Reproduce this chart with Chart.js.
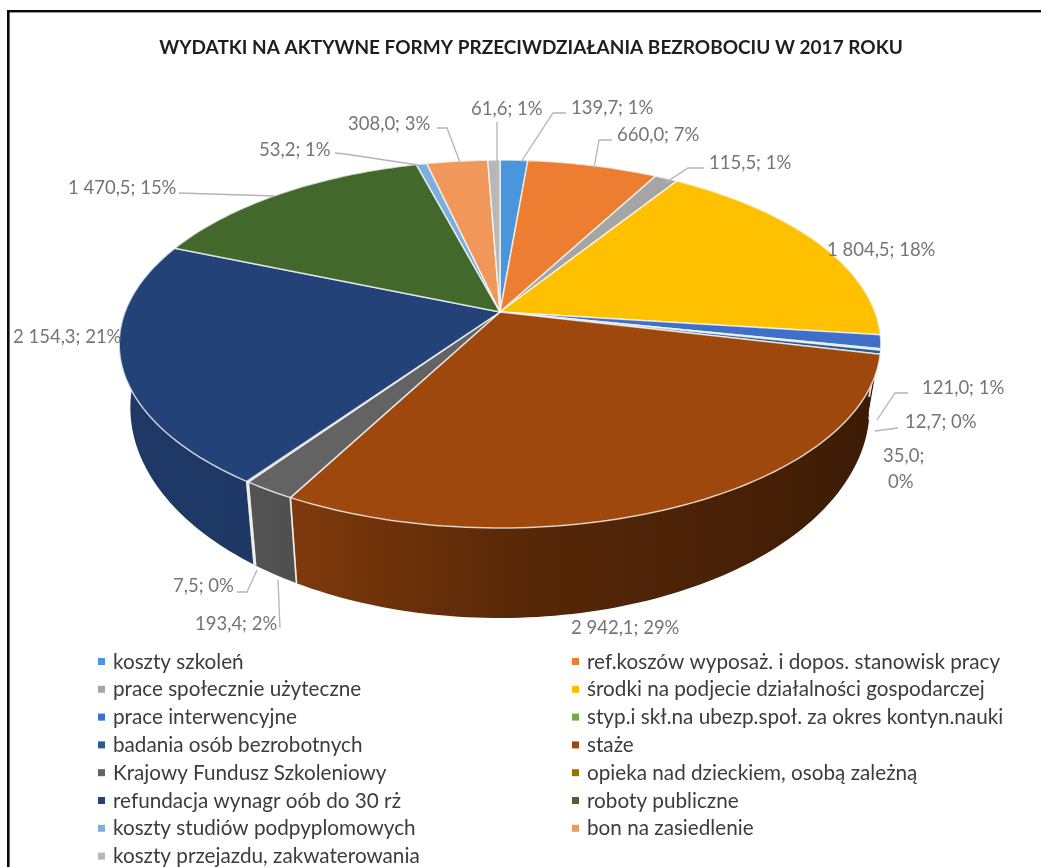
<!DOCTYPE html>
<html lang="pl"><head><meta charset="utf-8">
<style>html,body{margin:0;padding:0;background:#fff}canvas{display:block;filter:blur(0.45px)}</style>
<script src="https://cdn.jsdelivr.net/npm/chart.js@4"></script></head>
<body><canvas id="c" width="1041" height="867"></canvas>
<script>
const titleText = 'WYDATKI NA AKTYWNE FORMY PRZECIWDZIAŁANIA BEZROBOCIU W 2017 ROKU';
const categories = ['koszty szkoleń','ref.koszów wyposaż. i dopos. stanowisk pracy','prace społecznie użyteczne','środki na podjecie działalności gospodarczej','prace interwencyjne','styp.i skł.na ubezp.społ. za okres kontyn.nauki','badania osób bezrobotnych','staże','Krajowy Fundusz Szkoleniowy','opieka nad dzieckiem, osobą zależną','refundacja wynagr oób do 30 rż','roboty publiczne','koszty studiów podpyplomowych','bon na zasiedlenie','koszty przejazdu, zakwaterowania'];
const values = [139.7,660.0,115.5,1804.5,121.0,12.7,35.0,2942.1,193.4,7.5,2154.3,1470.5,53.2,308.0,61.6];
const colors = ['#4a96dc','#ED7D31','#A5A5A5','#FFC000','#3f6fc8','#70AD47','#255E91','#9E480E','#636363','#997300','#234277','#43682B','#7CAFDD','#F1975A','#B7B7B7'];
// label placement: left x, centre y
const labelPos = [[571,108],[617,135],[709,163],[827,250],[922,388],[905,422],[883,456],[571,628],[195,624],[173,586],[13,337],[68,188],[259,150],[348,124],[471,109]];
const leaders = [
 [[566,113],[553,113],[521,162]],[[612,140],[599,140],[594,168]],[[704,168],[688,168],[665,183]],null,
 [[908,393],[895,393],[877,420]],[[898,428],[875,431]],null,null,
 [[280,628],[278,580]],[[237,592],[247,592],[257,570]],null,
 [[179,193],[275,196]],[[335,153],[345,154],[418,165]],[[437,128],[447,128],[461,165]],[[497,122],[497,163]]];

const LABEL_FONT='18.5px Lato', LEGEND_FONT='20.7px Lato';
// pie projection
const CX=500, K=0.174;
const TOP={a:375,b:178.4,y:312}, BASE={a:364,b:204,y:371};
const pt=(d,t)=>{const u=Math.cos(t),v=Math.sin(t),w=1-K*v;return [CX+d.a*u/w,d.y+d.b*v/w];};
function rgb(h){return [1,3,5].map(i=>parseInt(h.substr(i,2),16));}
function shade(h,f){return 'rgb('+rgb(h).map(c=>Math.round(c*f)).join(',')+')';}
function arcPts(d,a0,a1){const n=Math.max(2,Math.ceil(Math.abs(a1-a0)/0.02));const r=[];for(let i=0;i<=n;i++)r.push(pt(d,a0+(a1-a0)*i/n));return r;}
function trace(ctx,pts){pts.forEach((p,i)=>i?ctx.lineTo(p[0],p[1]):ctx.moveTo(p[0],p[1]));}

const pie3d={id:'pie3d',
 beforeDraw(chart){const c=chart.ctx;c.save();c.fillStyle='#fff';c.fillRect(0,0,chart.width,chart.height);
  c.fillStyle='#0a0a0a';c.fillRect(7,10,chart.width-7,2.4);c.fillRect(7,10,2.6,chart.height-10);c.restore();},
 beforeDatasetDraw(chart,args){
  const ctx=chart.ctx, arcs=args.meta.data;
  ctx.save();ctx.lineJoin='round';
  arcs.forEach((el,i)=>{
   const a0=el.startAngle,a1=el.endAngle;
   const g=ctx.createLinearGradient(130,0,880,0);
   g.addColorStop(0,shade(colors[i],.86));g.addColorStop(.16,shade(colors[i],.85));g.addColorStop(.52,shade(colors[i],.56));g.addColorStop(1,shade(colors[i],.38));
   ctx.beginPath();trace(ctx,arcPts(TOP,a0,a1).concat(arcPts(BASE,a1,a0)));ctx.closePath();
   ctx.fillStyle=g;ctx.fill();
  });
  arcs.forEach(el=>{
   [el.startAngle,el.endAngle].forEach(a=>{ if(Math.sin(a)>0.05){
    const p=pt(TOP,a),q=pt(BASE,a);ctx.beginPath();ctx.moveTo(p[0],p[1]);ctx.lineTo(q[0],q[1]);
    ctx.strokeStyle='rgba(255,255,255,.65)';ctx.lineWidth=1.6;ctx.stroke();}});
  });
  arcs.forEach((el,i)=>{
   ctx.beginPath();ctx.moveTo(CX,TOP.y);arcPts(TOP,el.startAngle,el.endAngle).forEach(p=>ctx.lineTo(p[0],p[1]));ctx.closePath();
   ctx.fillStyle=colors[i];ctx.fill();
   ctx.strokeStyle='rgba(255,255,255,.72)';ctx.lineWidth=1.5;ctx.stroke();
  });
  ctx.restore();
  return false;
 },
 afterDraw(chart){
  const ctx=chart.ctx,total=values.reduce((a,b)=>a+b,0);
  ctx.save();
  ctx.strokeStyle='#b4b4b4';ctx.lineWidth=1.3;
  leaders.forEach(l=>{if(!l)return;ctx.beginPath();trace(ctx,l);ctx.stroke();});
  ctx.font=LABEL_FONT;ctx.fillStyle='#757575';ctx.textBaseline='middle';ctx.textAlign='left';
  values.forEach((v,i)=>{
   const val=v.toFixed(1).replace('.',',').replace(/(\d)(\d{3}),/,'$1 $2,');
   const pct=Math.round(v/total*100)+'%';
   const [x,y]=labelPos[i];
   if(i===6){ctx.fillText(val+';',x,y);ctx.fillText(pct,x+5,y+26);}
   else ctx.fillText(val+'; '+pct,x,y);
  });
  ctx.font=LEGEND_FONT;
  categories.forEach((t,i)=>{
   const col=i%2,row=(i-col)/2;
   const mx=col?572:98, ty=662+row*27.8;
   ctx.fillStyle=colors[i];ctx.fillRect(mx,ty-4,7,7);
   ctx.fillStyle='#3c3c3c';ctx.fillText(t,mx+15,ty);
  });
  ctx.restore();
 }};

new Chart(document.getElementById('c'),{
 type:'pie',
 data:{labels:categories,datasets:[{data:values,backgroundColor:colors,borderColor:'#fff'}]},
 plugins:[pie3d],
 options:{responsive:false,animation:false,events:[],
  layout:{padding:{left:21,top:36}},
  plugins:{legend:{display:false},tooltip:{enabled:false},
   title:{display:true,text:titleText,color:'#1e1e1e',font:{family:'Lato',size:19,weight:'bold'},padding:{top:0,bottom:0}}}}
});
</script>
</body></html>
